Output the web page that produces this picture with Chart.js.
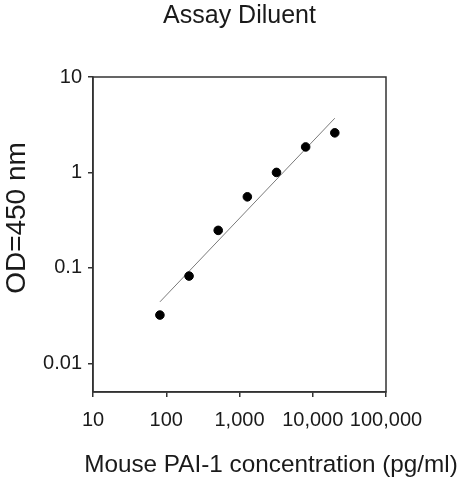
<!DOCTYPE html>
<html>
<head>
<meta charset="utf-8">
<script src="https://cdn.jsdelivr.net/npm/chart.js@4"></script>
<style>
  body { margin: 0; background: #fff; }
</style>
</head>
<body>
<canvas id="curva" width="463" height="480"></canvas>
<script>
// Datos de la curva estándar
const concentraciones = [81.92, 204.8, 512, 1280, 3200, 8000, 20000];
const densidadOptica = [0.032, 0.082, 0.247, 0.555, 1.0, 1.85, 2.6];
// Recta de ajuste (extremos)
const ajusteX = [82, 20000];
const ajusteY = [0.044, 3.7];
// Marcas de los ejes
const ticksX = [10, 100, 1000, 10000, 100000];
const ticksY = [0.01, 0.1, 1, 10];
const etiquetasY = ['0.01', '0.1', '1', '10'];

const fuente = "'Liberation Sans', Arial, sans-serif";
const negro = '#1a1a1a';

// Marco completo alrededor del área del gráfico
const marco = {
    id: 'marco',
    afterDatasetsDraw(chart) {
        const {ctx, chartArea: a} = chart;
        ctx.save();
        ctx.strokeStyle = '#333';
        ctx.lineWidth = 1.5;
        ctx.strokeRect(a.left, a.top, a.right - a.left, a.bottom - a.top);
        ctx.restore();
    }
};

// Títulos de los ejes (más anchos que el área, sin recorte de ancho)
const titulosEjes = {
    id: 'titulosEjes',
    afterDraw(chart) {
        const {ctx} = chart;
        ctx.save();
        ctx.fillStyle = negro;
        ctx.textAlign = 'center';
        ctx.textBaseline = 'middle';
        ctx.font = '24.3px ' + fuente;
        ctx.fillText('Mouse PAI-1 concentration (pg/ml)', 271, 465);
        ctx.translate(17, 218);
        ctx.rotate(-Math.PI / 2);
        ctx.font = '28px ' + fuente;
        ctx.fillText('OD=450 nm', 0, 0);
        ctx.restore();
    }
};

const ctx = document.getElementById('curva');
new Chart(ctx, {
    type: 'scatter',
    data: {
        datasets: [{
            data: concentraciones.map((x, i) => ({x: x, y: densidadOptica[i]})),
            backgroundColor: '#000',
            borderColor: '#000',
            pointRadius: 4.3,
            pointHoverRadius: 4.3
        }, {
            type: 'line',
            data: ajusteX.map((x, i) => ({x: x, y: ajusteY[i]})),
            borderColor: '#7a7a7a',
            borderWidth: 1,
            pointRadius: 0,
            fill: false
        }]
    },
    options: {
        responsive: false,
        animation: false,
        layout: { padding: { left: 0, right: 77, top: 0, bottom: 0 } },
        scales: {
            x: {
                type: 'logarithmic',
                min: 10,
                max: 100000,
                afterBuildTicks: s => { s.ticks = ticksX.map(v => ({value: v})); },
                afterFit: s => { s.height = 88; },
                grid: { drawOnChartArea: false, tickLength: 5, color: '#333', lineWidth: 1.5 },
                border: { color: '#333', width: 1.5 },
                ticks: {
                    color: negro,
                    font: { family: fuente, size: 20 },
                    padding: 11,
                    maxRotation: 0,
                    autoSkip: false,
                    callback: v => Number(v).toLocaleString('en-US')
                }
            },
            y: {
                type: 'logarithmic',
                min: 0.005,
                max: 10,
                afterBuildTicks: s => { s.ticks = ticksY.map(v => ({value: v})); },
                afterFit: s => { s.width = 93; },
                grid: { drawOnChartArea: false, tickLength: 5, color: '#333', lineWidth: 1.5 },
                border: { color: '#333', width: 1.5 },
                ticks: {
                    color: negro,
                    font: { family: fuente, size: 20 },
                    padding: 6,
                    autoSkip: false,
                    callback: v => etiquetasY[ticksY.indexOf(Number(v))] || ''
                }
            }
        },
        plugins: {
            legend: { display: false },
            tooltip: { enabled: false },
            title: {
                display: true,
                fullSize: false,
                text: 'Assay Diluent',
                color: negro,
                font: { family: fuente, size: 25, weight: 'normal' },
                padding: { top: 1, bottom: 46 }
            }
        }
    },
    plugins: [marco, titulosEjes]
});
</script>
</body>
</html>
